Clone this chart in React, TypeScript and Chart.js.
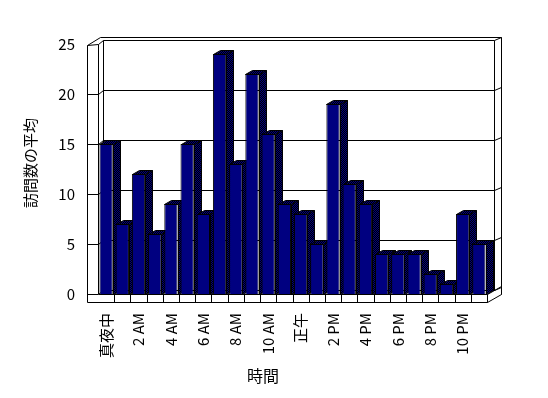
import { useEffect, useRef } from "react";
import { Chart, registerables } from "chart.js";

Chart.register(...registerables);

const hours = [
  "真夜中", "1 AM", "2 AM", "3 AM", "4 AM", "5 AM", "6 AM", "7 AM", "8 AM", "9 AM", "10 AM", "11 AM",
  "正午", "1 PM", "2 PM", "3 PM", "4 PM", "5 PM", "6 PM", "7 PM", "8 PM", "9 PM", "10 PM", "11 PM",
];
const visits = [15, 7, 12, 6, 9, 15, 8, 24, 13, 22, 16, 9, 8, 5, 19, 11, 9, 4, 4, 4, 2, 1, 8, 5];
const yMin = 0;
const yMax = 25;
const yStep = 5;
const yTitle = "訪問数の平均";
const xTitle = "時間";

const FONT = '"Noto Sans CJK JP", "Noto Sans", sans-serif';
const NAVY = "#000080";

// depth offsets of the oblique 3D look
const DX = 7;
const DY = -4;

function makePattern(ctx: CanvasRenderingContext2D) {
  const c = document.createElement("canvas");
  c.width = 2;
  c.height = 2;
  const p = c.getContext("2d")!;
  p.fillStyle = "#000";
  p.fillRect(0, 0, 2, 2);
  p.fillStyle = NAVY;
  p.fillRect(0, 0, 1, 1);
  p.fillRect(1, 1, 1, 1);
  return ctx.createPattern(c, "repeat")!;
}

const threeD = {
  id: "threeD",
  beforeDatasetsDraw(chart: any) {
    const ctx: CanvasRenderingContext2D = chart.ctx;
    const { left: L, right: R, top: T, bottom: B } = chart.chartArea;
    const ys = chart.scales.y;
    const n = hours.length;
    const cw = (R - L) / n;
    const fx = L - 11; // front-left edge of the side wall
    const fb = B + 8; // front bottom edge of the floor
    const bl = L + 5; // back wall inner left
    const br = R + DX; // back wall inner right
    const ol = R + 2 * DX; // back wall outer right
    const px = (v: number) => Math.round(v) + 0.5;

    ctx.save();
    ctx.lineWidth = 1;
    ctx.strokeStyle = "#000";
    const poly = (pts: number[][], close = false, fill?: any) => {
      ctx.beginPath();
      ctx.moveTo(px(pts[0][0]), px(pts[0][1]));
      for (let i = 1; i < pts.length; i++) ctx.lineTo(px(pts[i][0]), px(pts[i][1]));
      if (close) ctx.closePath();
      if (fill) {
        ctx.fillStyle = fill;
        ctx.fill();
      }
      ctx.stroke();
    };

    // outer contour of walls
    poly([[fx, fb], [fx, T + 1], [fx + 13, T - 7], [ol, T - 7], [ol, B]]);
    // side wall inner edge and back wall inner face
    poly([[L, T], [bl, T - 4], [br, T - 4], [br, B - 4]]);
    poly([[bl, T - 4], [bl, B - 4]]);
    poly([[br, T - 4], [ol, T - 7]]);
    poly([[L, T], [L, B]]);
    poly([[fx, T + 1], [L, T]]);

    // gridlines across side wall and back wall
    for (let v = yMin; v < yMax; v += yStep) {
      const yp = ys.getPixelForValue(v);
      poly([[fx, yp], [L, yp], [bl, yp - 4], [br, yp - 4], [ol, yp - 7]]);
    }

    // floor front face and right face
    ctx.fillStyle = "#fff";
    ctx.fillRect(px(L), px(B), Math.round(R - L), Math.round(fb - B));
    poly([[L, B], [R, B], [R, fb], [fx, fb]]);
    for (let k = 1; k <= n; k++) {
      const x = L + k * cw;
      poly([[x, B], [x, fb]]);
    }
    poly([[R, B], [ol, B - 8], [ol, B], [R, fb]], false);

    // bar side and top faces
    const pat = makePattern(ctx);
    const meta = chart.getDatasetMeta(0);
    meta.data.forEach((bar: any) => {
      const xl = bar.x - bar.width / 2;
      const xr = bar.x + bar.width / 2;
      const yt = bar.y;
      const yb = bar.base;
      poly([[xr, yt], [xr + DX, yt + DY], [xr + DX, yb + DY], [xr, yb]], true, pat);
      poly([[xl, yt], [xl + DX, yt + DY], [xr + DX, yt + DY], [xr, yt]], true, pat);
    });
    ctx.restore();
  },
  afterDraw(chart: any) {
    const ctx: CanvasRenderingContext2D = chart.ctx;
    ctx.save();
    ctx.fillStyle = "#000";
    ctx.textAlign = "center";
    ctx.textBaseline = "middle";
    ctx.font = `15px ${FONT}`;
    ctx.translate(30, 163);
    ctx.rotate(-Math.PI / 2);
    ctx.fillText(yTitle, 0, 0);
    ctx.restore();
    ctx.save();
    ctx.fillStyle = "#000";
    ctx.textAlign = "center";
    ctx.textBaseline = "middle";
    ctx.font = `16px ${FONT}`;
    ctx.fillText(xTitle, 263, 376);
    ctx.restore();
  },
};

export default function App() {
  const ref = useRef<HTMLCanvasElement>(null);
  useEffect(() => {
    if (!ref.current) return;
    const chart = new Chart(ref.current, {
      type: "bar",
      data: {
        labels: hours,
        datasets: [
          {
            data: visits,
            backgroundColor: NAVY,
            borderColor: "#000",
            borderWidth: 1,
            barPercentage: 0.82,
            categoryPercentage: 1,
          },
        ],
      },
      options: {
        responsive: false,
        animation: false,
        events: [],
        layout: { padding: { top: 44, right: 61, left: 0, bottom: 0 } },
        plugins: { legend: { display: false }, tooltip: { enabled: false } },
        scales: {
          x: {
            offset: true,
            grid: { display: false, drawTicks: false },
            border: { display: false },
            ticks: {
              autoSkip: false,
              minRotation: 90,
              maxRotation: 90,
              padding: 19,
              color: "#000",
              font: { family: FONT, size: 15 },
              callback: (_v: any, i: number) => (i % 2 === 0 ? hours[i] : ""),
            },
            afterFit: (s: any) => {
              s.height = 104;
            },
          },
          y: {
            min: yMin,
            max: yMax,
            grid: { display: false, drawTicks: false },
            border: { display: false },
            ticks: {
              stepSize: yStep,
              padding: 23,
              color: "#000",
              font: { family: FONT, size: 15 },
            },
            afterFit: (s: any) => {
              s.width = 98;
            },
          },
        },
      },
      plugins: [threeD],
    });
    return () => chart.destroy();
  }, []);
  return (
    <div style={{ position: "absolute", left: 0, top: 0, width: 548, height: 398, background: "#fff" }}>
      <canvas ref={ref} width={548} height={398} style={{ display: "block" }} />
    </div>
  );
}
